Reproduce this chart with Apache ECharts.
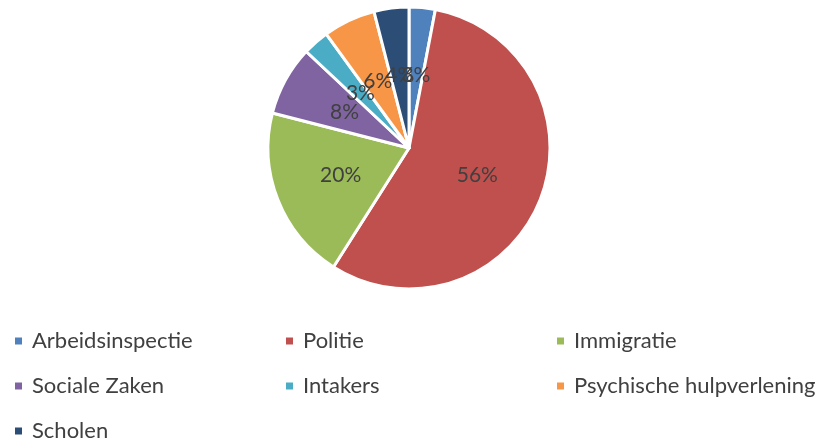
<!DOCTYPE html>
<html>
<head>
<meta charset="utf-8">
<script src="https://cdn.jsdelivr.net/npm/echarts@6/dist/echarts.min.js"></script>
<style>
  html, body { margin: 0; padding: 0; background: #fff; }
  #chart { width: 818px; height: 441px; }
</style>
</head>
<body>
<div id="chart"></div>
<script>
const categories = ['Arbeidsinspectie', 'Politie', 'Immigratie', 'Sociale Zaken', 'Intakers', 'Psychische hulpverlening', 'Scholen'];
const values = [3, 56, 20, 8, 3, 6, 4];
const colors = ['#4f81bd', '#c0504d', '#9bbb59', '#8064a2', '#4bacc6', '#f79646', '#2c4d75'];

// legend columns as in the original layout
const legendCols = [
  [categories[0], categories[3], categories[6]],
  [categories[1], categories[4]],
  [categories[2], categories[5]]
];
const legendLeft = [13, 284, 555];

const chart = echarts.init(document.getElementById('chart'));

const legendBase = {
  orient: 'vertical',
  top: 330,
  height: 140,
  padding: 0,
  icon: 'rect',
  itemWidth: 9,
  itemHeight: 9,
  itemGap: 23,
  selectedMode: false,
  textStyle: { color: '#404040', fontSize: 22, lineHeight: 22, fontFamily: 'Lato', padding: [0, 0, 0, 4] }
};

chart.setOption({
  color: colors,
  animation: false,
  legend: legendCols.map((d, i) => Object.assign({}, legendBase, { left: legendLeft[i], data: d })),
  series: [
    {
      type: 'pie',
      center: [409, 148],
      radius: 141,
      startAngle: 90,
      clockwise: true,
      avoidLabelOverlap: false,
      itemStyle: { borderColor: '#fff', borderWidth: 3 },
      label: {
        position: 'inner',
        formatter: '{d}%',
        color: '#404040',
        fontSize: 21,
        fontFamily: 'Lato'
      },
      labelLayout: { hideOverlap: false },
      labelLine: { show: false },
      emphasis: { disabled: true },
      data: categories.map((c, i) => ({ name: c, value: values[i] }))
    }
  ]
});

window.addEventListener('resize', () => chart.resize());
</script>
</body>
</html>
